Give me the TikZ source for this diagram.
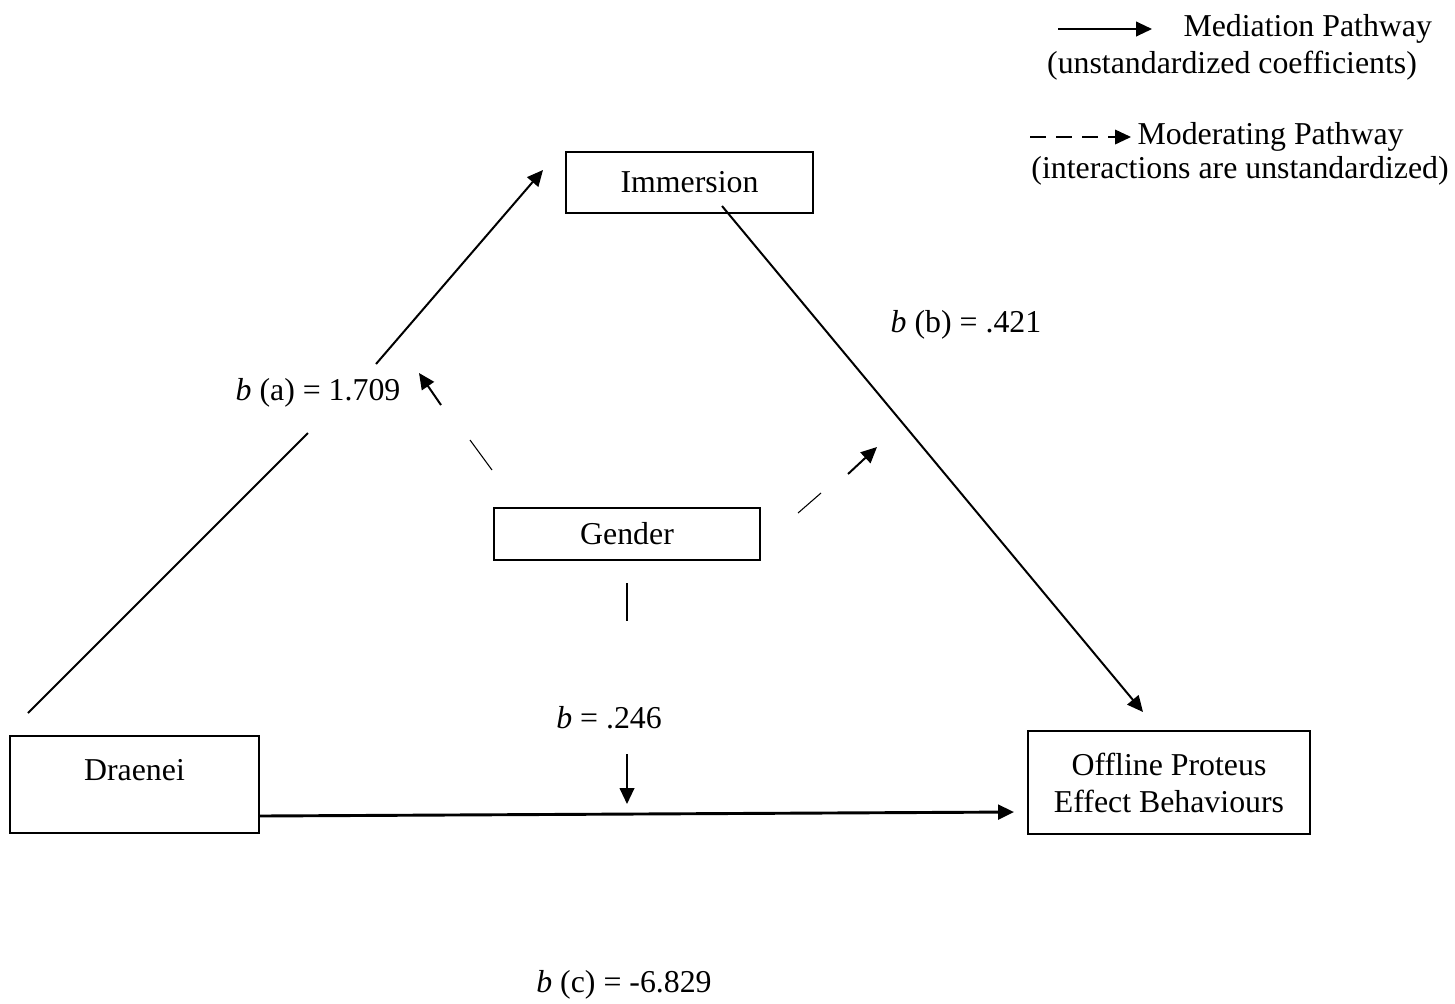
\documentclass[tikz,border=0pt]{standalone}
\usepackage{fontspec}
\setmainfont{Liberation Serif}
\usetikzlibrary{arrows.meta}
\begin{document}
\begin{tikzpicture}[x=0.377pt,y=-0.377pt,
 box/.style={draw, line width=0.8pt, inner sep=0pt, font=\fontsize{12}{14}\selectfont},
 txt/.style={inner sep=0pt, font=\fontsize{12}{14}\selectfont},
 med/.style={line width=0.75pt, -{Triangle[length=6pt,width=5.5pt]}},
 thinline/.style={line width=0.4pt},
]
\useasboundingbox (0,0) rectangle (1455,1003);
% boxes
\node[box, minimum width=93.1pt, minimum height=23pt] (imm) at (689.5,182.5) {Immersion};
\node[box, minimum width=100.3pt, minimum height=19.6pt] (gen) at (627,534) {Gender};
\node[box, minimum width=93.9pt, minimum height=36.6pt] (dra) at (134.5,784.5) {};
\node[txt] (dratext) at (134.5,770) {Draenei};
\node[box, minimum width=106.3pt, minimum height=38.8pt, align=center] (off) at (1169,782.5) {Offline Proteus\\Effect Behaviours};
% labels
\node[txt] (la) at (318,393) {\textit{b} (a) = 1.709};
\node[txt] (lb) at (966,325) {\textit{b} (b) = .421};
\node[txt] (lm) at (609,718) {\textit{b} = .246};
\node[txt] (lc) at (624,985) {\textit{b} (c) = -6.829};
% coordinates
\coordinate (a1) at (28,713); \coordinate (a2) at (308,433);
\coordinate (a3) at (376,364); \coordinate (a4) at (543,170);
\coordinate (b1) at (722,206); \coordinate (b2) at (1143,712);
\coordinate (c1) at (259,816); \coordinate (c2) at (1014,812);
\coordinate (ul1) at (492,470); \coordinate (ul2) at (470,440);
\coordinate (ul3) at (441,405); \coordinate (ul4) at (419,373);
\coordinate (ur1) at (798,513); \coordinate (ur2) at (821,493);
\coordinate (ur3) at (848,474); \coordinate (ur4) at (877,447);
\coordinate (d1) at (627,583); \coordinate (d2) at (627,621);
\coordinate (d3) at (627,754); \coordinate (d4) at (627,804);
% mediation paths
\draw[line width=0.75pt] (a1) -- (a2);
\draw[med] (a3) -- (a4);
\draw[med] (b1) -- (b2);
\draw[med, line width=1.1pt] (c1) -- (c2);
% moderating paths
\draw[thinline] (ul1) -- (ul2);
\draw[med] (ul3) -- (ul4);
\draw[thinline] (ur1) -- (ur2);
\draw[med] (ur3) -- (ur4);
\draw[thinline] (d1) -- (d2);
\draw[med] (d3) -- (d4);
% legend
\coordinate (m1) at (1058,29); \coordinate (m2) at (1152,29);
\draw[med] (m1) -- (m2);
\node[txt, anchor=west] (lmed) at (1183,29) {Mediation Pathway};
\node[txt] (lmed2) at (1232,66) {(unstandardized coefficients)};
\coordinate (g1) at (1030,137); \coordinate (g2) at (1098,137);
\coordinate (g3) at (1108,137); \coordinate (g4) at (1131,137);
\draw[thinline, dash pattern=on 6pt off 3.8pt] (g1) -- (g2);
\draw[med, line width=0.6pt] (g3) -- (g4);
\node[txt, anchor=west] (lmod) at (1137,137) {Moderating Pathway};
\node[txt] (lmod2) at (1240,171) {(interactions are unstandardized)};
\end{tikzpicture}
\end{document}
